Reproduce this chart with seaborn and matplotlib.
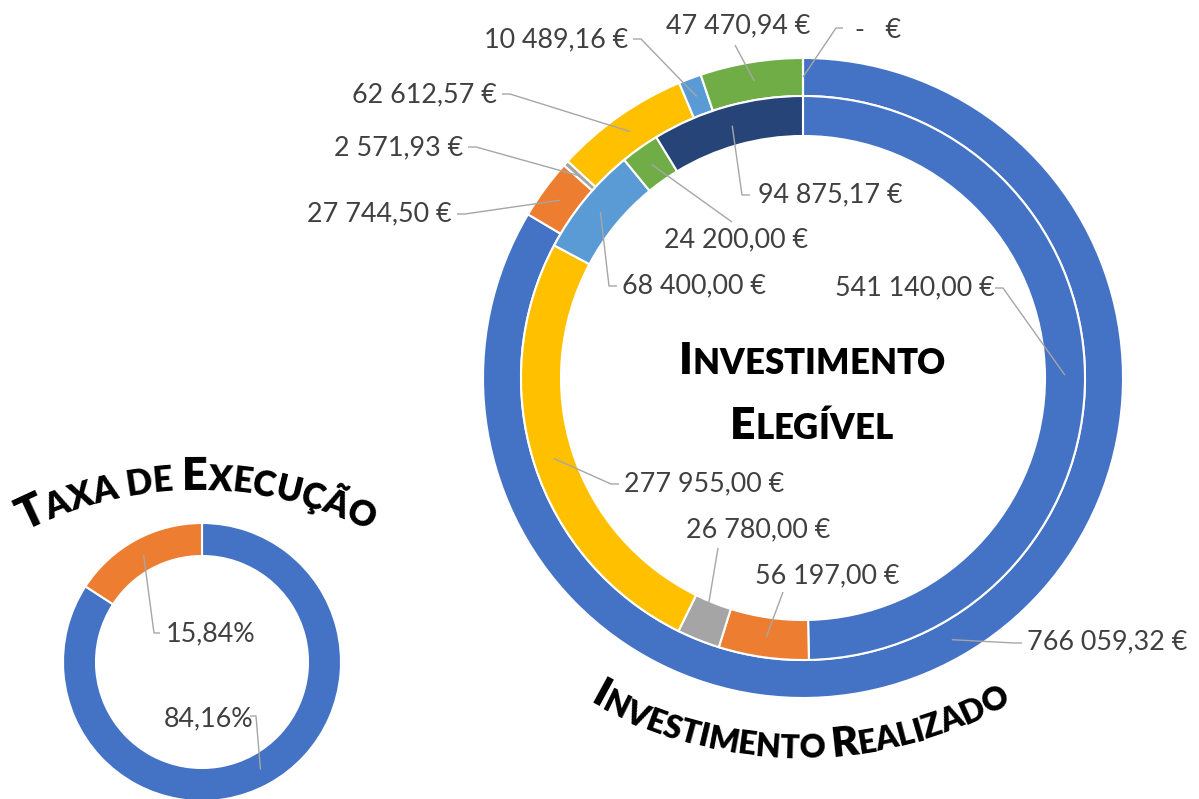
import numpy as np
import matplotlib
matplotlib.use("Agg")
import matplotlib.pyplot as plt
import seaborn as sns

# ---------------- data ----------------
ring_order = ["1", "2", "3", "4", "5", "6", "7"]
realizado_values = [766059.32, 27744.50, 2571.93, 62612.57, 10489.16, 47470.94, 0.0]
elegivel_values = [541140.00, 56197.00, 26780.00, 277955.00, 68400.00, 24200.00, 94875.17]
taxa_labels = ["Executado", "Por executar"]
taxa_values = [84.16, 15.84]

palette = ["#4472C4", "#ED7D31", "#A5A5A5", "#FFC000", "#5B9BD5", "#70AD47", "#264478"]
taxa_palette = ["#4472C4", "#ED7D31"]

# ---------------- layout (pixels) ----------------
W, H = 1199, 799
BIG_C = (803, 378); BIG_R = 320
OUT_W = 38; IN_R = 282; IN_W = 40
SM_C = (202, 662); SM_R = 139; SM_W = 33

out_lab = [(1027, 642, "left"), (452, 214, "right"), (463, 148, "right"), (497, 95, "right"),
           (628, 40, "right"), (738, 26, "center"), (855, 30, "left")]
out_lead = [[(1022, 643), (1014, 643)], [(457, 214), (465, 214)], [(468, 147), (476, 147)],
            [(502, 94), (510, 94)], [(633, 39), (641, 39)], [(735, 45)], [(843, 28), (836, 28)]]
in_lab = [(835, 288, "left"), (755, 576, "left"), (686, 530, "left"), (624, 484, "left"),
          (622, 286, "left"), (736, 240, "center"), (758, 195, "left")]
in_lead = [[(995, 288), (1003, 288)], [(783, 592)], [(718, 548)], [(619, 484), (611, 484)],
           [(617, 286), (609, 286)], [(732, 222)], [(750, 195), (742, 195)]]
sm_lab = [(164, 719, "left"), (166, 634, "left")]
sm_lead = [[(250, 716), (256, 716)], [(160, 633), (154, 633)]]

sns.set_theme(style="white")
FONT = ["Lato", "DejaVu Sans"]
plt.rcParams["font.family"] = FONT

LAB_FS = 19.4
LAB_COL = "#404040"
LINE_COL = "#A6A6A6"
TITLE_W = "heavy"


def eur(v):
    if v == 0:
        return "-   €"
    return f"{v:,.2f}".replace(",", " ").replace(".", ",") + " €"


def pct(v):
    return f"{v:.2f}%".replace(".", ",")


fig = plt.figure(figsize=(W / 100, H / 100), dpi=100)


def pie_axes(c, r):
    cx, cy = c
    return fig.add_axes([(cx - r) / W, (H - (cy + r)) / H, 2 * r / W, 2 * r / H])


axb = pie_axes(BIG_C, BIG_R)
axb.pie(realizado_values, radius=1.0, startangle=90, counterclock=False, colors=palette,
        wedgeprops=dict(width=OUT_W / BIG_R, edgecolor="white", linewidth=1.5))
axb.pie(elegivel_values, radius=IN_R / BIG_R, startangle=90, counterclock=False, colors=palette,
        wedgeprops=dict(width=IN_W / BIG_R, edgecolor="white", linewidth=1.5))
axb.set_xlim(-1, 1); axb.set_ylim(-1, 1); axb.set_aspect("auto"); axb.axis("off")

axs = pie_axes(SM_C, SM_R)
axs.pie(taxa_values, radius=1.0, startangle=90, counterclock=False, colors=taxa_palette,
        wedgeprops=dict(width=SM_W / SM_R, edgecolor="white", linewidth=1.5))
axs.set_xlim(-1, 1); axs.set_ylim(-1, 1); axs.set_aspect("auto"); axs.axis("off")

ov = fig.add_axes([0, 0, 1, 1])
ov.set_xlim(0, W); ov.set_ylim(H, 0); ov.axis("off"); ov.patch.set_alpha(0); ov.set_zorder(10)


def mid_points(values, c, r):
    tot = float(sum(values))
    cum = np.cumsum([0] + list(values))[:-1]
    pts = []
    for s, v in zip(cum, values):
        a = 2 * np.pi * (s + v / 2) / tot
        pts.append((c[0] + r * np.sin(a), c[1] - r * np.cos(a)))
    return pts


def draw_labels(values, texts, labs, leads, c, r):
    for p, t, (x, y, ha), lead in zip(mid_points(values, c, r), texts, labs, leads):
        xs = [q[0] for q in lead] + [p[0]]
        ys = [q[1] for q in lead] + [p[1]]
        ov.plot(xs, ys, color=LINE_COL, lw=1.0, solid_capstyle="butt")
        ov.text(x, y, t, ha=ha, va="center", fontsize=LAB_FS, color=LAB_COL)


draw_labels(realizado_values, [eur(v) for v in realizado_values], out_lab, out_lead,
            BIG_C, BIG_R - OUT_W / 2)
draw_labels(elegivel_values, [eur(v) for v in elegivel_values], in_lab, in_lead,
            BIG_C, IN_R - IN_W / 2)
draw_labels(taxa_values, [pct(v) for v in taxa_values], sm_lab, sm_lead,
            SM_C, SM_R - SM_W / 2)

renderer = fig.canvas.get_renderer()


def width_of(s, size):
    if s == " ":
        return width_of("a a", size) - width_of("aa", size)
    t = ov.text(0, 0, s, fontsize=size, fontweight=TITLE_W)
    w = t.get_window_extent(renderer).width
    t.remove()
    return w


def small_caps(text, big, small):
    # upper-case letters of the source keep full size, lower-case become small capitals
    return [(ch.upper(), big if ch.isupper() else small) for ch in text]


def straight_text(text, cx, base_y, big, small):
    pieces = small_caps(text, big, small)
    ws = [width_of(c, s) for c, s in pieces]
    x = cx - sum(ws) / 2
    for (c, s), w in zip(pieces, ws):
        ov.text(x + w / 2, base_y, c, fontsize=s, fontweight=TITLE_W, color="black",
                ha="center", va="baseline")
        x += w


def arc_text(text, cx, cy, R, mode, big, small):
    pieces = small_caps(text, big, small)
    ws = [width_of(c, s) for c, s in pieces]
    phi = -sum(ws) / R / 2
    for (c, s), w in zip(pieces, ws):
        pm = phi + w / 2 / R
        if mode == "up":
            x = cx + R * np.sin(pm); y = cy - R * np.cos(pm); rot = -np.degrees(pm)
        else:
            x = cx + R * np.sin(pm); y = cy + R * np.cos(pm); rot = np.degrees(pm)
        ov.text(x, y, c, fontsize=s, fontweight=TITLE_W, color="black", ha="center",
                va="baseline", rotation=rot, rotation_mode="anchor")
        phi += w / R


straight_text("Investimento", 812, 374, 32, 25)
straight_text("Elegível", 811, 439, 32, 25)
arc_text("Taxa de Execução", 197, 870, 380, "up", 32.5, 25)
arc_text("Investimento Realizado", 800, 330, 428, "down", 30, 23)

fig.savefig("out.png", dpi=100)
